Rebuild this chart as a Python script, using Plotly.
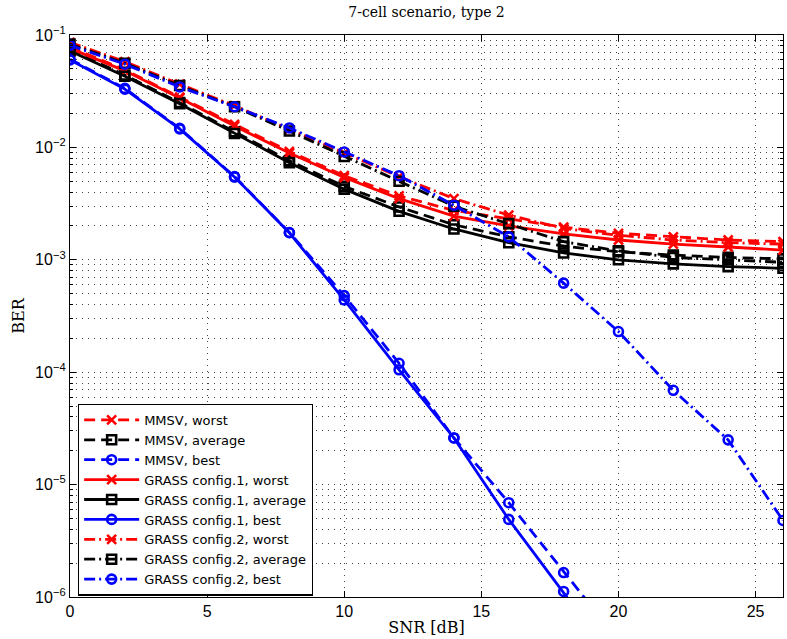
import plotly.graph_objects as go

snr = [0, 2, 4, 6, 8, 10, 12, 14, 16, 18, 20, 22, 24, 26]

mmsv_worst = [7.8e-2, 4.9e-2, 2.8e-2, 1.6e-2, 9.2e-3, 5.6e-3, 3.7e-3, 2.75e-3, 2.3e-3, 1.95e-3, 1.72e-3, 1.6e-3, 1.5e-3, 1.45e-3]
mmsv_avg = [7.4e-2, 4.4e-2, 2.5e-2, 1.38e-2, 7.6e-3, 4.5e-3, 2.95e-3, 2.05e-3, 1.6e-3, 1.32e-3, 1.18e-3, 1.1e-3, 1.05e-3, 1.02e-3]
mmsv_best = [6.1e-2, 3.35e-2, 1.48e-2, 5.5e-3, 1.75e-3, 4.8e-4, 1.2e-4, 2.6e-5, 6.9e-6, 1.65e-6, 4.0e-7, 1e-7, 2.5e-8, 6e-9]
g1_worst = [7.6e-2, 4.8e-2, 2.75e-2, 1.55e-2, 8.9e-3, 5.4e-3, 3.5e-3, 2.45e-3, 2.0e-3, 1.7e-3, 1.5e-3, 1.38e-3, 1.3e-3, 1.22e-3]
g1_avg = [7.2e-2, 4.3e-2, 2.45e-2, 1.33e-2, 7.3e-3, 4.25e-3, 2.7e-3, 1.88e-3, 1.42e-3, 1.15e-3, 1.0e-3, 9.2e-4, 8.7e-4, 8.4e-4]
g1_best = [6.0e-2, 3.3e-2, 1.46e-2, 5.45e-3, 1.74e-3, 4.4e-4, 1.05e-4, 2.6e-5, 4.9e-6, 1.12e-6, 2.5e-7, 5.5e-8, 1.2e-8, 2.6e-9]
g2_worst = [8.6e-2, 5.8e-2, 3.65e-2, 2.35e-2, 1.45e-2, 8.9e-3, 5.5e-3, 3.5e-3, 2.5e-3, 1.9e-3, 1.65e-3, 1.5e-3, 1.42e-3, 1.38e-3]
g2_avg = [8.3e-2, 5.6e-2, 3.55e-2, 2.3e-2, 1.4e-2, 8.3e-3, 5.0e-3, 3.0e-3, 2.1e-3, 1.45e-3, 1.2e-3, 1.05e-3, 1.0e-3, 9.5e-4]
g2_best = [8.1e-2, 5.5e-2, 3.45e-2, 2.3e-2, 1.49e-2, 9.1e-3, 5.6e-3, 3.06e-3, 1.6e-3, 6.2e-4, 2.3e-4, 6.9e-5, 2.5e-5, 4.8e-6]

names = ["MMSV, worst", "MMSV, average", "MMSV, best",
         "GRASS config.1, worst", "GRASS config.1, average", "GRASS config.1, best",
         "GRASS config.2, worst", "GRASS config.2, average", "GRASS config.2, best"]
series = [mmsv_worst, mmsv_avg, mmsv_best, g1_worst, g1_avg, g1_best, g2_worst, g2_avg, g2_best]
colors = ["#ff0000", "#000000", "#0000ff"] * 3
symbols = ["x-thin-open", "square-open", "circle-open"] * 3
DASHED = "11px,6px"
DASHDOT = "11px,4px,2px,4px"
dashes = [DASHED] * 3 + ["solid"] * 3 + [DASHDOT] * 3

fig = go.Figure()
for name, ys, c, s, d in zip(names, series, colors, symbols, dashes):
    fig.add_trace(go.Scatter(
        x=snr, y=ys, name=name, mode="lines+markers",
        line=dict(color=c, width=2.8, dash=d),
        marker=dict(symbol=s, size=9, color=c, line=dict(color=c, width=2.6)),
    ))

ytickvals = [1e-6, 1e-5, 1e-4, 1e-3, 1e-2, 1e-1]
yticktext = ["10<sup>\u22126</sup>", "10<sup>\u22125</sup>", "10<sup>\u22124</sup>",
             "10<sup>\u22123</sup>", "10<sup>\u22122</sup>", "10<sup>\u22121</sup>"]
xtickvals = [0, 5, 10, 15, 20, 25]

gridc = "#444444"
GD = "1px,5px"
fig.update_layout(
    width=787, height=639,
    margin=dict(l=70, r=4, t=35, b=42),
    paper_bgcolor="white", plot_bgcolor="white",
    title=dict(text="7-cell scenario, type 2", x=0.542, xanchor="center", y=0.988, yanchor="top",
               font=dict(family="DejaVu Serif", size=14, color="black")),
    font=dict(family="DejaVu Sans", size=13, color="black"),
    xaxis=dict(range=[0, 26], tickvals=xtickvals, ticks="inside", ticklen=6, tickcolor="black",
               showline=True, linecolor="black", linewidth=1.3, mirror="ticks",
               showgrid=True, gridcolor=gridc, griddash=GD, gridwidth=1,
               zeroline=False,
               title=dict(text="SNR [dB]", standoff=2, font=dict(family="DejaVu Serif", size=16)),
               tickfont=dict(family="Liberation Sans", size=16)),
    yaxis=dict(type="log", range=[-6, -1], tickvals=ytickvals, ticktext=yticktext,
               ticks="inside", ticklen=6, tickcolor="black",
               showline=True, linecolor="black", linewidth=1.3, mirror="ticks",
               showgrid=True, gridcolor=gridc, griddash=GD, gridwidth=1,
               minor=dict(dtick="D1", ticks="inside", ticklen=3, tickcolor="black",
                          showgrid=True, gridcolor=gridc, griddash=GD, gridwidth=1),
               zeroline=False,
               title=dict(text="BER", standoff=6, font=dict(family="DejaVu Serif", size=16)),
               tickfont=dict(family="Liberation Sans", size=16)),
    legend=dict(x=0.011, y=0.344, xanchor="left", yanchor="top",
                bgcolor="white", bordercolor="black", borderwidth=1.3,
                font=dict(family="DejaVu Sans", size=13), tracegroupgap=0,
                itemwidth=55),
    showlegend=True,
)

fig.write_html("out.html")
